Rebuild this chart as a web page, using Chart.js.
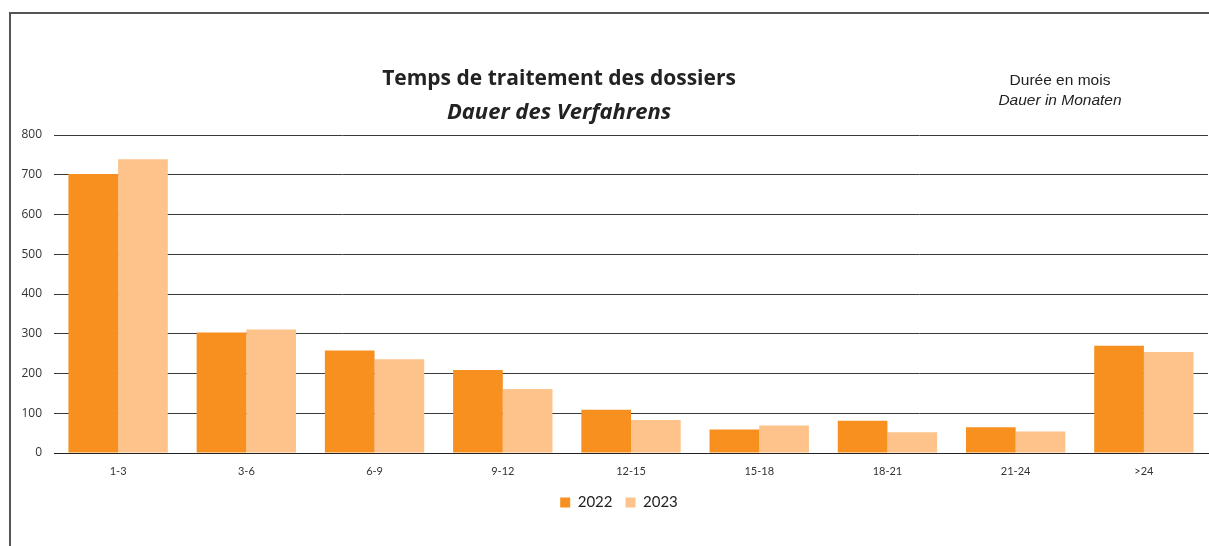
<!DOCTYPE html>
<html lang="fr">
  <head>
    <meta charset="UTF-8" />
    <title>Temps de traitement des dossiers</title>
    <script src="https://cdn.jsdelivr.net/npm/chart.js"></script>
    <style>
      body { margin: 0; background: #fff; }
      .wrap { position: relative; width: 1209px; height: 546px; overflow: hidden; }
      .frame {
        position: absolute; left: 9px; top: 12px; width: 1220px; height: 560px;
        border-top: 2px solid #555; border-left: 2px solid #555;
      }
      canvas { position: absolute; left: 0; top: 0; }
      .title {
        position: absolute; left: 359px; width: 400px; text-align: center;
        font-family: "Open Sans", sans-serif; font-weight: bold; font-size: 21px; color: #222;
      }
      .note {
        position: absolute; left: 960px; width: 200px; text-align: center;
        font-family: "Liberation Sans", Arial, sans-serif; font-size: 15.5px; color: #222;
      }
    </style>
  </head>
  <body>
    <div class="wrap">
      <div class="frame"></div>
      <canvas id="myChart" width="1209" height="546"></canvas>
      <div class="title" style="top: 63px">Temps de traitement des dossiers</div>
      <div class="title" style="top: 95px; font-style: italic; font-size: 22px">Dauer des Verfahrens</div>
      <div class="note" style="top: 71px">Durée en mois</div>
      <div class="note" style="top: 91px; font-style: italic">Dauer in Monaten</div>
    </div>
    <script>
      const categories = ["1-3", "3-6", "6-9", "9-12", "12-15", "15-18", "18-21", "21-24", ">24"];
      const values2022 = [702, 303, 258, 209, 109, 59, 81, 65, 270];
      const values2023 = [739, 311, 236, 161, 83, 69, 52, 54, 254];
      const yTicks = [0, 100, 200, 300, 400, 500, 600, 700, 800];

      const ctx = document.querySelector("#myChart");

      // legend sits a little right of the canvas centre in the original
      const legendShift = {
        id: "legendShift",
        afterLayout(chart) {
          chart.legend.left += 15;
          chart.legend.right += 15;
        },
      };

      new Chart(ctx, {
        type: "bar",
        data: {
          labels: categories,
          datasets: [
            { label: "2022", data: values2022, backgroundColor: "#F7901E" },
            { label: "2023", data: values2023, backgroundColor: "#FDC38A" },
          ],
        },
        options: {
          responsive: false,
          animation: false,
          layout: { padding: { left: 0, right: 1, top: 135, bottom: 26 } },
          datasets: { bar: { categoryPercentage: 0.775, barPercentage: 1 } },
          plugins: {
            tooltip: { enabled: false },
            legend: {
              position: "bottom",
              labels: {
                boxWidth: 10,
                boxHeight: 10,
                padding: 13,
                color: "#222",
                font: { family: "Lato", size: 15 },
              },
            },
          },
          scales: {
            x: {
              grid: { display: false, drawTicks: false },
              border: { display: true, color: "#222", width: 1 },
              ticks: { color: "#333", padding: 12, font: { family: "Lato", size: 11 } },
              afterFit: function (scale) {
                scale.height = 29;
              },
            },
            y: {
              min: 0,
              max: 800,
              afterBuildTicks: function (scale) {
                scale.ticks = yTicks.map(function (v) {
                  return { value: v };
                });
              },
              grid: { color: "#3a3a3a", drawTicks: false },
              border: { display: false },
              ticks: { color: "#333", padding: 12, font: { family: "Open Sans", size: 12 } },
              afterFit: function (scale) {
                scale.width = 54;
              },
            },
          },
        },
        plugins: [legendShift],
      });
    </script>
  </body>
</html>
